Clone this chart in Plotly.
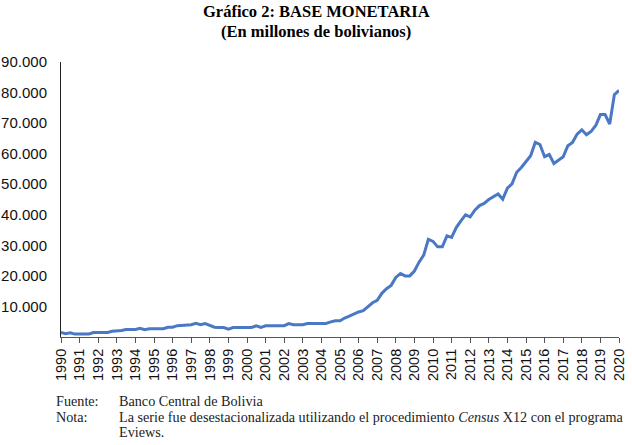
import plotly.graph_objects as go

start_year = 1990
periods_per_year = 4
base_monetaria = [
    1500, 1100, 1350, 950,
    950, 950, 1000, 1450,
    1450, 1450, 1500, 1900,
    2000, 2150, 2450, 2450,
    2450, 2850, 2400, 2700,
    2700, 2700, 2700, 3200,
    3200, 3700, 3800, 4000,
    4000, 4500, 4000, 4400,
    3700, 3200, 3150, 3100,
    2600, 3100, 3100, 3100,
    3100, 3150, 3650, 3150,
    3650, 3650, 3650, 3650,
    3700, 4400, 4000, 4000,
    4000, 4400, 4400, 4400,
    4400, 4450, 4950, 5300,
    5300, 6200, 6800, 7500,
    8200, 8600, 9900, 11200,
    12000, 14300, 15800, 16900,
    19500, 20800, 20000, 20000,
    21600, 24500, 26800, 32000,
    31300, 29500, 29500, 33100,
    32600, 35800, 38000, 40000,
    39300, 41500, 43000, 43700,
    45000, 45900, 46800, 45100,
    48700, 50100, 53900, 55500,
    57500, 59300, 63700, 63000,
    59000, 59700, 56800, 57900,
    59000, 62600, 63700, 66400,
    67800, 66200, 67300, 69200,
    72800, 72800, 69700, 79300,
    80700,
]
x_years = [start_year + i / periods_per_year for i in range(len(base_monetaria))]

year_ticks = list(range(1990, 2021))
year_labels = [str(y) for y in year_ticks]
y_ticks = [10000, 20000, 30000, 40000, 50000, 60000, 70000, 80000, 90000]
y_labels = ["10.000", "20.000", "30.000", "40.000", "50.000", "60.000", "70.000", "80.000", "90.000"]

title_1 = "Gráfico 2: BASE MONETARIA"
title_2 = "(En millones de bolivianos)"
fuente_lbl = "Fuente:"
fuente_txt = "Banco Central de Bolivia"
nota_lbl = "Nota:"
nota_txt = "La serie fue desestacionalizada utilizando el procedimiento <i>Census</i> X12 con el programa"
nota_txt2 = "Eviews."

W, H = 632, 445
L, R, T, B = 61, 13, 62, 108
pw = W - L - R
ph = H - T - B

def px(x):
    return (x - L) / pw

def py(y):
    return (H - B - y) / ph

fig = go.Figure()
fig.add_trace(go.Scatter(
    x=x_years, y=base_monetaria, mode="lines",
    line=dict(color="#4a78c4", width=3), cliponaxis=False,
    hoverinfo="skip",
))

serif = "Liberation Serif, Times New Roman, serif"
sans = "Liberation Sans, Arial, sans-serif"
foot = dict(family=serif, size=14.2, color="#222")

annotations = [
    dict(text="<b>" + title_1 + "</b>", x=px(316), y=py(12), font=dict(family=serif, size=16.5, color="#000")),
    dict(text="<b>" + title_2 + "</b>", x=px(316), y=py(32), font=dict(family=serif, size=16.5, color="#000")),
    dict(text=fuente_lbl, x=px(54), y=py(401), xanchor="left", font=foot),
    dict(text=fuente_txt, x=px(117), y=py(401), xanchor="left", font=foot),
    dict(text=nota_lbl, x=px(54), y=py(417), xanchor="left", font=foot),
    dict(text=nota_txt, x=px(117), y=py(417), xanchor="left", font=foot),
    dict(text=nota_txt2, x=px(117), y=py(432), xanchor="left", font=foot),
]
for a in annotations:
    a.setdefault("xanchor", "center")
    a.update(xref="paper", yref="paper", yanchor="middle", showarrow=False)

fig.update_layout(
    width=W, height=H,
    margin=dict(l=L, r=R, t=T, b=B, pad=0),
    paper_bgcolor="white", plot_bgcolor="white",
    showlegend=False,
    annotations=annotations,
    font=dict(family=sans, color="#111"),
)
fig.update_xaxes(
    range=[1990, 2020], tickvals=year_ticks, ticktext=year_labels,
    tickangle=-90, ticks="outside", ticklen=5, tickcolor="#555", tickwidth=1,
    showline=True, linecolor="#555", linewidth=1, showgrid=False, zeroline=False,
    tickfont=dict(family=sans, size=14.5, color="#111"), automargin=False,
)
fig.update_yaxes(
    range=[0, 90000], tickvals=y_ticks, ticktext=y_labels,
    ticks="", showline=True, linecolor="#222", linewidth=1,
    showgrid=False, zeroline=False, ticklabelstandoff=10,
    tickfont=dict(family=sans, size=15, color="#111"), automargin=False,
)
fig.write_html(
    "out.html",
    config={"displayModeBar": False},
    post_script="document.body.style.margin='0';document.body.style.overflow='hidden';",
)
